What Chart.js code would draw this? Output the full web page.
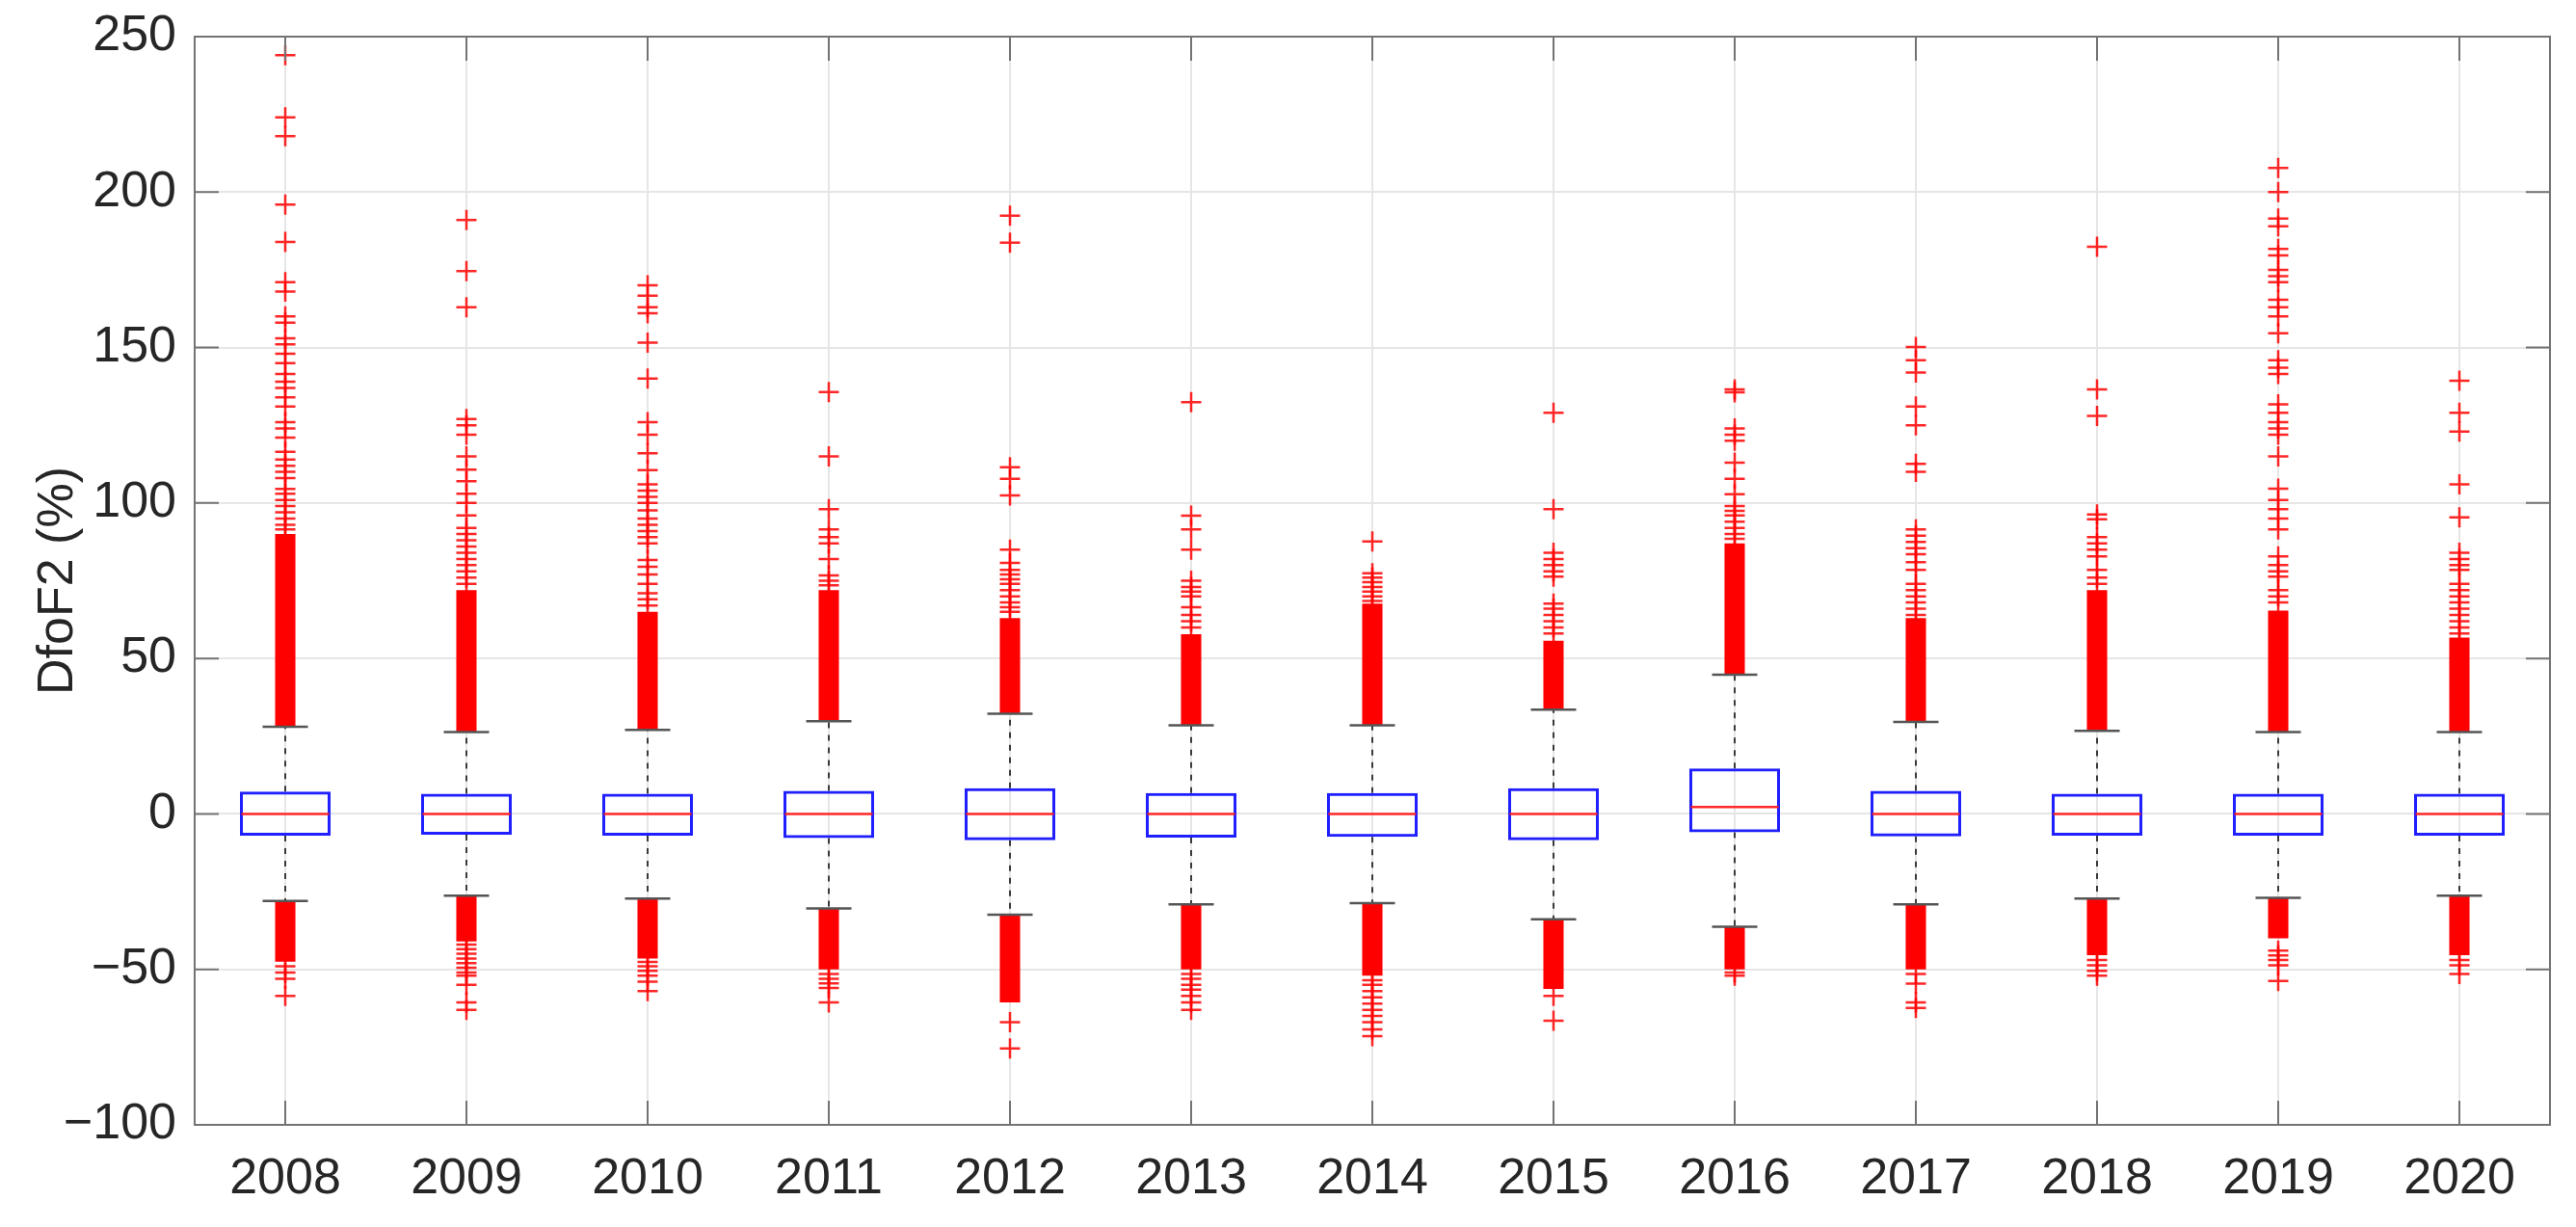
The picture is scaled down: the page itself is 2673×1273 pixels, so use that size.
<!DOCTYPE html>
<html><head><meta charset="utf-8">
<script src="https://cdn.jsdelivr.net/npm/chart.js@4.4.1/dist/chart.umd.min.js"></script>
<style>html,body{margin:0;padding:0;background:#fff;} #wrap{width:2673px;height:1273px;position:relative;}</style>
</head><body><div id="wrap"><canvas id="c"></canvas></div>
<script>
// ---- data ----
const years = ['2008','2009','2010','2011','2012','2013','2014','2015','2016','2017','2018','2019','2020'];
const q1      = [-7.0,-6.7,-7.0,-7.8,-8.5,-7.6,-7.4,-8.5,-5.9,-7.2,-7.0,-7.0,-7.0];
const medians = [0,0,0,0,0,0,0,0,2.2,0,0,0,0];
const q3      = [7.2,6.5,6.5,7.4,8.3,6.7,6.7,8.3,14.6,7.4,6.5,6.5,6.5];
const whiskerLow  = [-28,-26.3,-27.2,-30.4,-32.4,-29.1,-28.7,-33.9,-36.3,-29.1,-27.2,-27,-26.3];
const whiskerHigh = [28,26.3,27,29.8,32.2,28.5,28.5,33.5,44.8,29.6,26.7,26.3,26.3];
// ranges where the outlier markers overlap into a solid column
const denseHigh = [[28,90],[26.3,72],[27,65],[29.8,72],[32.2,63],[28.5,57.8],[28.5,67.6],[33.5,55.7],[44.8,87],[29.6,63],[26.7,72],[26.3,65.4],[26.3,56.7]];
const denseLow  = [[-47.5,-28],[-41,-26.3],[-46.5,-27.2],[-50,-30.4],[-60.6,-32.4],[-50,-29.1],[-52,-28.7],[-56.3,-33.9],[-50,-36.3],[-50,-29.1],[-45.4,-27.2],[-40,-27],[-45.4,-26.3]];
// individual outliers outside the solid columns
const out2008 = [244,224,218,196,184,171,168,160,158,153,151,148,145,141.5,139,137,134,131,126,124,121,116.5,114,112,110,108,104.5,103,101,99,97,95,93,91.5,-49,-51,-53,-58.5];
const out2009 = [191,174.6,163,127,125,122,115,110.7,107,103,100,96,92,90,88,86,84,82,80,78,76,74,-42,-43.5,-45,-46.5,-48,-49.5,-51,-52,-55,-60.6,-63];
const out2010 = [170,166.7,163,161,151.6,140,126,122,116,110.6,106,104,102,100,97.6,95,93,91,89,87,81.7,79.5,77,74,71,69,67,-47.6,-49,-50.5,-52,-54,-57];
const out2011 = [135.7,115,98,91.5,89,87,82,76.7,75,73.5,-51.5,-53,-54.5,-56,-60.6];
const out2012 = [192.4,183.7,111.5,107.8,102.4,85,80.7,78.5,77,75.5,74,72,70,68,66.5,65,-67,-75.4];
const out2013 = [132.4,95.9,91.5,85,75,73,71.5,70,66.5,64,62,60,-51.5,-53,-55,-56.5,-58.5,-60.6,-63];
const out2014 = [87.6,77.4,76,74.5,73,71.5,70,68.5,-53.5,-55,-57,-59,-61,-63,-65,-67,-69.3,-71.5];
const out2015 = [129,98,84,82,80,78,76.3,67.6,66,64,62,60,58,-58.5,-66.5];
const out2016 = [136.5,135.6,124,122,120,113,107.8,102.8,99,97.5,96,94,92,90,88.5,-51,-52];
const out2017 = [150.2,145.9,142,131,125,112.6,110,91.5,89.5,87.5,85.5,83.5,81,78.5,74,72,70,68,66,64,-51.5,-54.6,-60.6,-62.4];
const out2018 = [182.4,136.5,128,96.3,94.8,89,87,85,82.8,78.5,76,74,-47,-48.7,-50.5,-52];
const out2019 = [207.8,200,191.5,189,181.7,179.6,175,173,171,165.4,163,160,154.6,145.9,143.5,141.5,131.7,129,126,124,122,115,104.6,101,98,95,91.5,82.8,80,78,76.3,72,70,68,-44,-45.5,-47,-48.7,-53.7];
const out2020 = [139.3,129,123,106,95.4,84,82,80,78.5,74,72,70,68,66,64,62,60,58,-47,-48.7,-51.5];
const outlierLists = [out2008,out2009,out2010,out2011,out2012,out2013,out2014,out2015,out2016,out2017,out2018,out2019,out2020];
const yTicks = [-100,-50,0,50,100,150,200,250];

// ---- build chart ----
const FONT = '"Liberation Sans", Arial, Helvetica, sans-serif';
const outlierPoints = [];
years.forEach((y,i)=>outlierLists[i].forEach(v=>outlierPoints.push({x:y,y:v})));

const AXIS_COLOR = '#737373';
const extras = {
  id:'extras',
  beforeDatasetsDraw(chart){
    const {ctx, scales:{x,y}} = chart;
    ctx.save();
    ctx.strokeStyle = '#3a3a3a';
    ctx.lineWidth = 2;
    ctx.setLineDash([6,7]);
    years.forEach((lab,i)=>{
      const cx = x.getPixelForValue(i);
      ctx.beginPath();
      ctx.moveTo(cx, y.getPixelForValue(q3[i])); ctx.lineTo(cx, y.getPixelForValue(whiskerHigh[i]));
      ctx.moveTo(cx, y.getPixelForValue(q1[i])); ctx.lineTo(cx, y.getPixelForValue(whiskerLow[i]));
      ctx.stroke();
    });
    ctx.restore();
  },
  afterDatasetsDraw(chart){
    const {ctx, chartArea:a, scales:{x,y}} = chart;
    const cw = x.getPixelForValue(1)-x.getPixelForValue(0);
    ctx.save();
    // caps
    ctx.strokeStyle = '#555555'; ctx.lineWidth = 2.5;
    years.forEach((lab,i)=>{
      const cx = x.getPixelForValue(i), hw = cw*0.125;
      [whiskerHigh[i], whiskerLow[i]].forEach(v=>{
        const py = y.getPixelForValue(v);
        ctx.beginPath(); ctx.moveTo(cx-hw,py); ctx.lineTo(cx+hw,py); ctx.stroke();
      });
    });
    // medians
    ctx.strokeStyle = 'rgba(255,30,30,0.95)'; ctx.lineWidth = 2.5;
    years.forEach((lab,i)=>{
      const cx = x.getPixelForValue(i), hw = cw*0.25 - 1.5;
      const py = y.getPixelForValue(medians[i]);
      ctx.beginPath(); ctx.moveTo(cx-hw,py); ctx.lineTo(cx+hw,py); ctx.stroke();
    });
    // axes box and inward ticks
    ctx.strokeStyle = AXIS_COLOR; ctx.lineWidth = 2;
    ctx.strokeRect(a.left, a.top, a.right-a.left, a.bottom-a.top);
    const tl = 25;
    ctx.beginPath();
    yTicks.forEach(v=>{
      const py = y.getPixelForValue(v);
      ctx.moveTo(a.left,py); ctx.lineTo(a.left+tl,py);
      ctx.moveTo(a.right,py); ctx.lineTo(a.right-tl,py);
    });
    years.forEach((lab,i)=>{
      const px = x.getPixelForValue(i);
      ctx.moveTo(px,a.bottom); ctx.lineTo(px,a.bottom-tl);
      ctx.moveTo(px,a.top); ctx.lineTo(px,a.top+tl);
    });
    ctx.stroke();
    ctx.restore();
  }
};

new Chart(document.getElementById('c'), {
  type:'bar',
  data:{
    labels: years,
    datasets:[
      {type:'line', label:'outliers', data: outlierPoints, showLine:false,
       pointStyle:'cross', pointRadius:10.5, pointHoverRadius:10.5,
       borderColor:'rgba(255,0,0,0.85)', backgroundColor:'rgba(255,0,0,0.85)', pointBorderWidth:2.5},
      {label:'box', data: years.map((_,i)=>[q1[i],q3[i]]), backgroundColor:'rgba(0,0,0,0)',
       borderColor:'#1f1fff', borderWidth:3, borderSkipped:false,
       barPercentage:0.5, categoryPercentage:1, grouped:false},
      {label:'denseHigh', data: denseHigh, backgroundColor:'#ff0000', borderWidth:0,
       barPercentage:0.112, categoryPercentage:1, grouped:false},
      {label:'denseLow', data: denseLow, backgroundColor:'#ff0000', borderWidth:0,
       barPercentage:0.112, categoryPercentage:1, grouped:false}
    ]
  },
  options:{
    responsive:true, maintainAspectRatio:false, animation:false,
    layout:{padding:{left:0,right:27,top:38,bottom:0}},
    plugins:{legend:{display:false}, tooltip:{enabled:false}},
    scales:{
      x:{
        offset:true,
        grid:{offset:false, color:'#e6e6e6', lineWidth:2, drawTicks:false},
        border:{display:false},
        ticks:{color:'#262626', font:{family:FONT, size:52}, padding:25, maxRotation:0},
        afterFit(s){ s.height = 106; s.paddingLeft = 0; s.paddingRight = 0; }
      },
      y:{
        min:-100, max:250,
        grid:{color:'#e6e6e6', lineWidth:2, drawTicks:false},
        border:{display:false},
        ticks:{stepSize:50, color:'#262626', font:{family:FONT, size:52}, padding:19,
               callback:v=> v<0 ? '\u2212'+Math.abs(v) : String(v)},
        title:{display:true, text:'DfoF2 (%)', color:'#262626', font:{family:FONT, size:52}, padding:{top:29,bottom:0}},
        afterFit(s){ s.width = 202; s.paddingTop = 0; s.paddingBottom = 0; }
      }
    }
  },
  plugins:[extras]
});
</script></body></html>
